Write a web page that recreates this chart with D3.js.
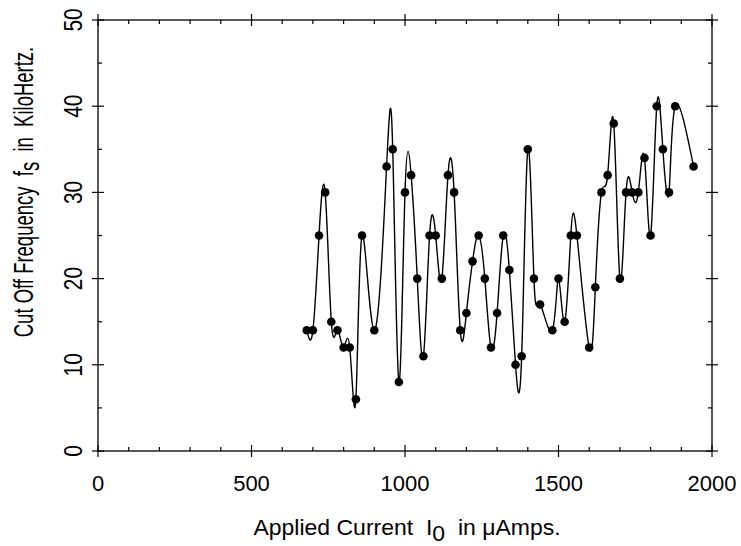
<!DOCTYPE html>
<html><head><meta charset="utf-8">
<script src="https://cdn.jsdelivr.net/npm/d3@7"></script>
<style>
body{margin:0;background:#fff;}
text{font-family:"Liberation Sans",Arial,Helvetica,sans-serif;fill:#000;white-space:pre;}
</style></head>
<body>
<svg id="c" width="741" height="546"></svg>
<script>
const currents = [680,700,720,740,760,780,800,820,840,860,900,940,960,980,1000,1020,1040,1060,1080,1100,1120,1140,1160,1180,1200,1220,1240,1260,1280,1300,1320,1340,1360,1380,1400,1420,1440,1480,1500,1520,1540,1560,1600,1620,1640,1660,1680,1700,1720,1740,1760,1780,1800,1820,1840,1860,1880,1940];
const freqs = [14,14,25,30,15,14,12,12,6,25,14,33,35,8,30,32,20,11,25,25,20,32,30,14,16,22,25,20,12,16,25,21,10,11,35,20,17,14,20,15,25,25,12,19,30,32,38,20,30,30,30,34,25,40,35,30,40,33];
const xTickLabels = [0,500,1000,1500,2000];
const yTickLabels = [0,10,20,30,40,50];

const svg = d3.select("#c");
const L=98, R=712, T=20, B=451;
const x = d3.scaleLinear().domain([0,2000]).range([L,R]);
const y = d3.scaleLinear().domain([0,50]).range([B,T]);
const data = currents.map((c,i)=>({x:c,y:freqs[i]}));

const g = svg.append("g");
// frame
g.append("rect").attr("x",L).attr("y",T).attr("width",R-L).attr("height",B-T)
  .attr("fill","none").attr("stroke","#000").attr("stroke-width",1.3);

const maj=6, mnr=4;
const xMinor = d3.range(0,2001,100).filter(v=>v%500!==0);
const yMinor = d3.range(0,51,5).filter(v=>v%10!==0);
const tk = g.append("g").attr("stroke","#000").attr("stroke-width",1.2);
xTickLabels.forEach(v=>{
  tk.append("line").attr("x1",x(v)).attr("x2",x(v)).attr("y1",B-maj).attr("y2",B+maj);
  tk.append("line").attr("x1",x(v)).attr("x2",x(v)).attr("y1",T-maj).attr("y2",T+maj);
});
xMinor.forEach(v=>{
  tk.append("line").attr("x1",x(v)).attr("x2",x(v)).attr("y1",B-mnr).attr("y2",B);
  tk.append("line").attr("x1",x(v)).attr("x2",x(v)).attr("y1",T).attr("y2",T+mnr);
});
yTickLabels.forEach(v=>{
  tk.append("line").attr("x1",L-maj).attr("x2",L+maj).attr("y1",y(v)).attr("y2",y(v));
  tk.append("line").attr("x1",R-maj).attr("x2",R+maj).attr("y1",y(v)).attr("y2",y(v));
});
yMinor.forEach(v=>{
  tk.append("line").attr("x1",L).attr("x2",L+mnr).attr("y1",y(v)).attr("y2",y(v));
  tk.append("line").attr("x1",R-mnr).attr("x2",R).attr("y1",y(v)).attr("y2",y(v));
});

// tick labels
g.selectAll(".xl").data(xTickLabels).enter().append("text")
  .attr("x",d=>x(d)).attr("y",491).attr("text-anchor","middle")
  .attr("font-size",22).text(d=>d);
g.selectAll(".yl").data(yTickLabels).enter().append("text")
  .attr("transform",d=>`translate(82,${y(d)}) rotate(-90) scale(0.95,1.15)`)
  .attr("text-anchor","middle").attr("font-size",22).text(d=>d);

// axis titles
const xt = g.append("text").attr("transform","translate(407,535) scale(1.07,1)")
  .attr("text-anchor","middle").attr("font-size",21.5);
xt.append("tspan").text("Applied Current  I");
xt.append("tspan").attr("dy",6).text("0");
xt.append("tspan").attr("dy",-6).text("  in \u03bcAmps.");

const yt = g.append("text").attr("transform","translate(33,192) rotate(-90) scale(1,1.45)")
  .attr("text-anchor","middle").attr("font-size",18.5);
yt.append("tspan").text("Cut Off Frequency  f");
yt.append("tspan").attr("dy",4).text("s");
yt.append("tspan").attr("dy",-4).text("  in  KiloHertz.");

// curve
const line = d3.line().x(d=>x(d.x)).y(d=>y(d.y)).curve(d3.curveNatural);
g.append("path").datum(data).attr("d",line).attr("fill","none").attr("stroke","#000").attr("stroke-width",1.4);
g.selectAll(".pt").data(data).enter().append("circle")
  .attr("cx",d=>x(d.x)).attr("cy",d=>y(d.y)).attr("r",4.3).attr("fill","#000");
</script>
</body></html>
